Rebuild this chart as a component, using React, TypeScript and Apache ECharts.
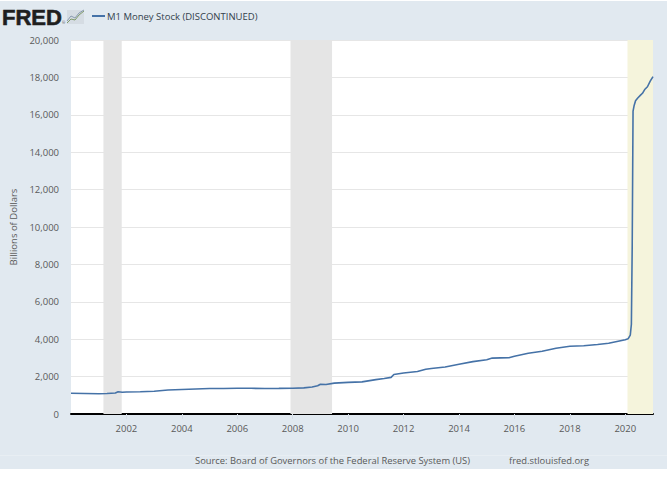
import React, { useEffect, useRef } from "react";
import * as echarts from "echarts";

const seriesName = "M1 Money Stock (DISCONTINUED)";
const years = [
  2000, 2000.5, 2001, 2001.3, 2001.6, 2001.7, 2001.85, 2002, 2002.5, 2003, 2003.5, 2004, 2004.5, 2005, 2005.5,
  2006, 2006.5, 2007, 2007.5, 2008, 2008.4, 2008.7, 2008.9, 2009, 2009.2, 2009.5, 2010, 2010.5, 2011, 2011.3,
  2011.55, 2011.65, 2012, 2012.5, 2012.8, 2013, 2013.5, 2014, 2014.5, 2015, 2015.2, 2015.5, 2015.8, 2016, 2016.5, 2017,
  2017.5, 2018, 2018.5, 2019, 2019.4, 2020, 2020.1, 2020.18, 2020.22, 2020.25, 2020.28, 2020.32, 2020.37, 2020.45,
  2020.55, 2020.62, 2020.7, 2020.8, 2020.9, 2021,
];
const values = [
  1110, 1100, 1085, 1100, 1125, 1190, 1160, 1180, 1190, 1220, 1280, 1310, 1340, 1365, 1365,
  1375, 1375, 1365, 1370, 1380, 1395, 1440, 1510, 1590, 1580, 1650, 1690, 1720, 1840, 1900,
  1960, 2110, 2190, 2270, 2390, 2430, 2510, 2660, 2800, 2900, 2990, 3000, 3010, 3090, 3250, 3360,
  3520, 3620, 3650, 3720, 3780, 3970, 4020, 4220, 4800, 9000, 16200, 16500, 16750, 16900,
  17050, 17150, 17350, 17500, 17800, 18040,
];
const yearTicks = [2002, 2004, 2006, 2008, 2010, 2012, 2014, 2016, 2018, 2020];
const recessions = [
  [2001.17, 2001.83],
  [2007.92, 2009.42],
];
const highlight = [2020.08, 2021];
const sourceText = "Source: Board of Governors of the Federal Reserve System (US)";
const siteText = "fred.stlouisfed.org";

const font = "'Open Sans', 'Noto Sans', sans-serif";
const textColor = "#595959";

export default function App() {
  const ref = useRef<HTMLDivElement>(null);
  useEffect(() => {
    const chart = echarts.init(ref.current!, undefined, { renderer: "svg" });
    chart.setOption({
      animation: false,
      textStyle: { fontFamily: font },
      grid: {
        left: 71,
        right: 14,
        top: 40,
        height: 374,
        backgroundColor: "#ffffff",
        show: true,
        borderWidth: 0,
        outerBoundsMode: "none",
      },
      legend: {
        left: 88,
        top: 9,
        itemWidth: 13,
        itemHeight: 2,
        itemGap: 0,
        padding: [2, 4],
        icon: "rect",
        textStyle: { color: "#333f4c", fontSize: 9.5, fontFamily: font, padding: [0, 0, 0, -3] },
        data: [seriesName],
      },
      xAxis: {
        type: "value",
        min: 2000,
        max: 2021,
        splitLine: { show: false },
        axisLine: { show: true, onZero: false, lineStyle: { color: "#000000", width: 2 } },
        axisTick: { show: true, customValues: yearTicks, length: 5, lineStyle: { color: "#d5dde6", width: 1 } },
        axisLabel: {
          customValues: yearTicks,
          color: textColor,
          fontSize: 9.5,
          margin: 9,
          formatter: (v: number) => String(v),
        },
      },
      yAxis: {
        type: "value",
        min: 0,
        max: 20000,
        interval: 2000,
        name: "Billions of Dollars",
        nameLocation: "middle",
        nameGap: 52,
        nameTextStyle: { color: textColor, fontSize: 9.5, fontFamily: font },
        axisLine: { show: false },
        axisTick: { show: false },
        splitLine: { lineStyle: { color: "#e6e6e6", width: 1 } },
        axisLabel: {
          color: textColor,
          fontSize: 9.5,
          margin: 12,
          padding: [0, 0, 2, 0],
          formatter: (v: number) => v.toLocaleString("en-US"),
        },
      },
      graphic: [
        {
          type: "text",
          x: 2,
          y: 6,
          style: {
            text: "FRED",
            fill: "#1f1f1f",
            stroke: "#1f1f1f",
            lineWidth: 0.6,
            fontFamily: "'Liberation Sans', Arial, sans-serif",
            fontWeight: "bold",
            fontSize: 22,
          },
        },
        {
          type: "text",
          x: 62,
          y: 20,
          style: { text: "®", fill: "#555555", fontSize: 4, fontFamily: font },
        },
        { type: "rect", shape: { x: 67, y: 10, width: 17, height: 14 }, style: { fill: "#d5dce3" } },
        {
          type: "polyline",
          shape: { points: [[67, 23], [71, 19], [75, 20], [79, 15], [84, 11]] },
          style: { stroke: "#7f9a6a", fill: "none", lineWidth: 1 },
        },
        {
          type: "polyline",
          shape: { points: [[67, 21], [71, 16], [75, 18], [79, 13], [84, 10]] },
          style: { stroke: "#8a9bb0", fill: "none", lineWidth: 1 },
        },
        { type: "line", shape: { x1: 0, y1: 455.5, x2: 667, y2: 455.5 }, style: { stroke: "#e8eef3", lineWidth: 1 } },
        {
          type: "text",
          x: 195,
          y: 456,
          style: { text: sourceText, fill: textColor, fontFamily: font, fontSize: 9.4 },
        },
        {
          type: "text",
          x: 509,
          y: 456,
          style: { text: siteText, fill: textColor, fontFamily: font, fontSize: 9.4 },
        },
      ],
      series: [
        {
          name: seriesName,
          type: "line",
          showSymbol: false,
          symbol: "none",
          data: years.map((y, i) => [y, values[i]]),
          lineStyle: { color: "#4572a7", width: 1.6 },
          itemStyle: { color: "#4572a7" },
          markArea: {
            silent: true,
            label: { show: false },
            data: [
              ...recessions.map(([a, b]) => [
                { xAxis: a, itemStyle: { color: "#e5e5e5" } },
                { xAxis: b },
              ]),
              [{ xAxis: highlight[0], itemStyle: { color: "#f5f4dc" } }, { xAxis: highlight[1] }],
            ],
          },
        },
      ],
    });
    return () => chart.dispose();
  }, []);
  return (
    <div style={{ position: "absolute", left: 0, top: 0, width: 667, height: 477, background: "#ffffff" }}>
      <div style={{ position: "absolute", left: 0, top: 1, width: 667, height: 468, background: "#e1e9f0" }} />
      <div ref={ref} style={{ position: "absolute", left: 0, top: 0, width: 667, height: 477 }} />
    </div>
  );
}
